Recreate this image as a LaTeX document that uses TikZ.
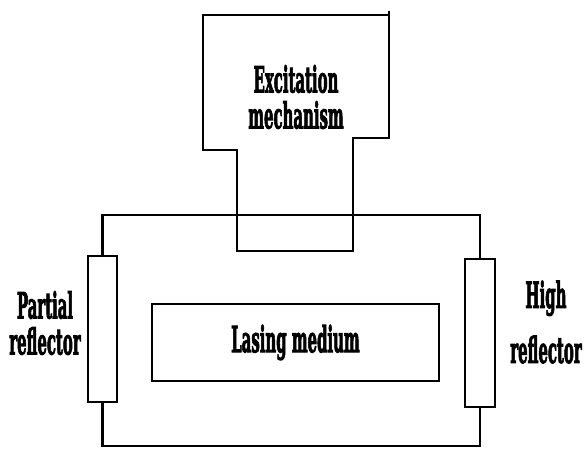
\documentclass[tikz,border=0pt]{standalone}
\usepackage{fontspec}
\usepackage{graphicx}
\newfontfamily\labelfont{DejaVuSerifCondensed-Bold}[Extension=.ttf, FakeBold=3]
\newcommand{\narrow}[1]{\scalebox{0.46}[1]{#1}}

\begin{document}
\begin{tikzpicture}[x=1pt, y=-1pt,
  wire/.style={line width=2.4pt},
  mirror/.style={draw, line width=2.4pt, minimum width=29pt, inner sep=0pt},
  medium/.style={draw, line width=2.4pt, minimum width=287pt, minimum height=77pt, inner sep=0pt},
  lbl/.style={font=\labelfont\fontsize{36}{36}\selectfont, align=center, inner sep=0pt}
]
\useasboundingbox (0,0) rectangle (587,448);
% ---------------- excitation mechanism ----------------
\draw[wire] (389,11) -- (389,138) -- (353,138) -- (353,251) -- (237,251)
  -- (237,150) -- (203,150) -- (203,15) -- (389,15);
\node[lbl] (exc) at (296,97) {\narrow{Excitation}\\\narrow{mechanism}};
% ---------------- cavity ----------------
\node[mirror, minimum height=146pt] (pr) at (102.5,329) {};
\node[mirror, minimum height=148pt, minimum width=30pt] (hr) at (480,333) {};
\node[medium, lbl] (lm) at (295.5,342.5) {\narrow{Lasing medium}};
\coordinate (top) at (0,215);
\coordinate (bot) at (0,446);
\draw[wire] (pr.north) |- (top -| hr.north) -- (hr.north);
\draw[wire] (pr.south) |- (bot -| hr.south) -- (hr.south);
% ---------------- labels ----------------
\node[lbl] (prl) at (45,323) {\narrow{Partial}\\\narrow{reflector}};
\node[lbl] (hrl) at (546,322) {\narrow{High}\\[19pt]\narrow{reflector}};
\end{tikzpicture}
\end{document}
